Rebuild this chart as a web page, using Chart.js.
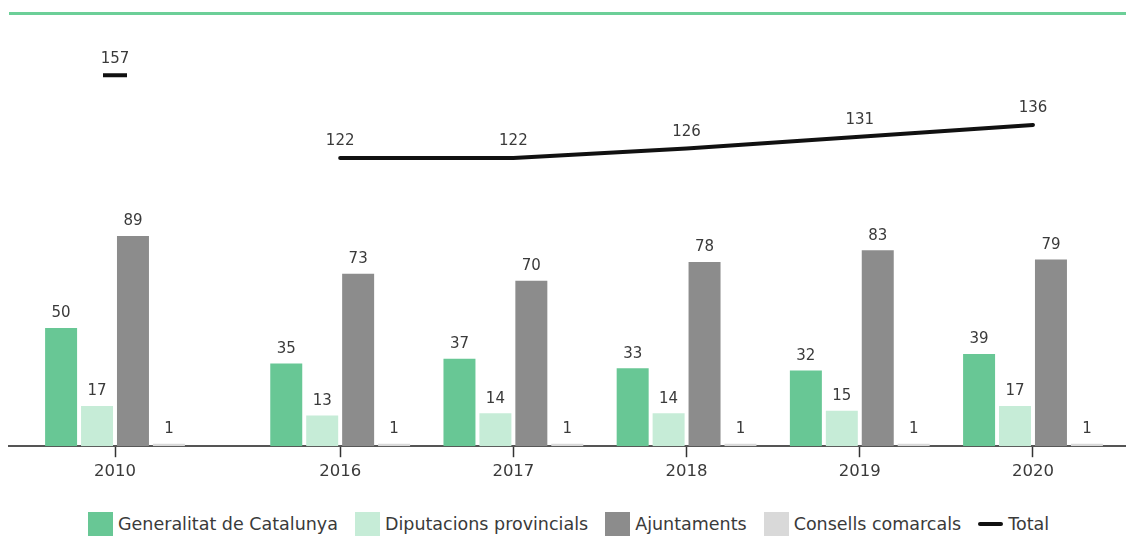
<!DOCTYPE html>
<html>
<head>
<meta charset="utf-8">
<script src="https://cdn.jsdelivr.net/npm/chart.js"></script>
<style>
    html, body { margin: 0; padding: 0; background: #fff; }
    body { width: 1126px; height: 558px; position: relative; overflow: hidden; font-family: "DejaVu Sans", sans-serif; }
    .top-rule { position: absolute; left: 9px; right: 0; top: 12px; height: 3px; background: #6ccf98; }
    .chart-box { position: absolute; left: 0; top: 0; width: 1126px; height: 490px; }
    .legend { position: absolute; left: 88px; top: 512px; height: 24px; display: flex; align-items: center; color: #3a3a3a; font-size: 17.5px; }
    .legend-item { display: flex; align-items: center; margin-right: 17px; }
    .legend-box { width: 25px; height: 24px; margin-right: 5px; }
    .legend-line { width: 25px; height: 4px; margin-right: 5px; border-radius: 2px; }
</style>
</head>
<body>
<div class="top-rule"></div>
<div class="chart-box"><canvas id="chart" width="1126" height="490"></canvas></div>
<div class="legend" id="legend"></div>

<script>
const years = ["2010", "2016", "2017", "2018", "2019", "2020"];
const generalitat = [50, 35, 37, 33, 32, 39];
const diputacions = [17, 13, 14, 14, 15, 17];
const ajuntaments = [89, 73, 70, 78, 83, 79];
const consells = [1, 1, 1, 1, 1, 1];
const total = [157, 122, 122, 126, 131, 136];

// the 2010 group sits a bit apart from the rest
const GAP_AFTER_FIRST = 0.3;
const slots = years.map((y, i) => i + (i > 0 ? GAP_AFTER_FIRST : 0));

const LABEL_COLOR = "#3a3a3a";
const FONT = "'DejaVu Sans', sans-serif";

function toPoints(values) {
    return values.map((v, i) => ({ x: slots[i], y: v }));
}

const valueLabels = {
    id: "valueLabels",
    afterDatasetsDraw(chart) {
        const ctx = chart.ctx;
        ctx.save();
        ctx.fillStyle = LABEL_COLOR;
        ctx.font = "15px " + FONT;
        ctx.textAlign = "center";
        ctx.textBaseline = "bottom";
        chart.data.datasets.forEach((ds, di) => {
            const meta = chart.getDatasetMeta(di);
            meta.data.forEach((el, i) => {
                const offset = ds.type === "line" ? 9 : 7;
                ctx.fillText(ds.data[i].y, el.x, el.y - offset);
            });
        });
        ctx.restore();
    }
};

const chart = new Chart(document.getElementById("chart"), {
    type: "bar",
    data: {
        datasets: [
            {
                type: "line",
                label: "Total",
                data: toPoints(total),
                borderColor: "#111",
                borderWidth: 4,
                borderCapStyle: "round",
                segment: {
                    borderColor: c => c.p0DataIndex === 0 ? "rgba(0,0,0,0)" : "#111"
                },
                pointStyle: "line",
                pointRadius: total.map((v, i) => i === 0 ? 12 : 0),
                pointBorderWidth: 4,
                pointBorderColor: "#111",
                pointHoverRadius: 0,
                tension: 0,
                order: 0
            },
            { label: "Generalitat de Catalunya", data: toPoints(generalitat), backgroundColor: "#68c795", order: 1 },
            { label: "Diputacions provincials", data: toPoints(diputacions), backgroundColor: "#c6ecd7", order: 1 },
            { label: "Ajuntaments", data: toPoints(ajuntaments), backgroundColor: "#8c8c8c", order: 1 },
            { label: "Consells comarcals", data: toPoints(consells), backgroundColor: "#d9d9d9", order: 1 }
        ]
    },
    options: {
        responsive: false,
        animation: false,
        categoryPercentage: 0.83,
        barPercentage: 0.89,
        layout: { autoPadding: false, padding: { left: 9, right: 0, top: 21, bottom: 3 } },
        plugins: {
            legend: { display: false },
            tooltip: { enabled: false }
        },
        scales: {
            x: {
                type: "linear",
                min: -0.612,
                max: 5.837,
                offset: false,
                afterBuildTicks: scale => {
                    scale.ticks = slots.map(v => ({ value: v }));
                },
                afterFit: scale => {
                    // labels are well inside the area, no extra side padding wanted
                    scale.paddingLeft = 0;
                    scale.paddingRight = 0;
                },
                ticks: {
                    autoSkip: false,
                    maxRotation: 0,
                    padding: 5,
                    color: LABEL_COLOR,
                    font: { family: FONT, size: 16.5 },
                    callback: function (value) {
                        const i = slots.indexOf(value);
                        return i >= 0 ? years[i] : "";
                    }
                },
                grid: {
                    offset: false,
                    drawOnChartArea: false,
                    drawTicks: true,
                    tickLength: 11,
                    tickColor: "#333",
                    tickWidth: 1.5
                },
                border: { display: true, color: "#555", width: 2 }
            },
            y: {
                display: false,
                min: 0,
                max: 180
            }
        }
    },
    plugins: [valueLabels]
});

// legend drawn as html from the datasets, bars first then the total line
const legend = document.getElementById("legend");
const order = [1, 2, 3, 4, 0];
order.forEach(di => {
    const ds = chart.data.datasets[di];
    const item = document.createElement("div");
    item.className = "legend-item";
    const mark = document.createElement("span");
    if (ds.type === "line") {
        mark.className = "legend-line";
        mark.style.background = ds.borderColor;
    } else {
        mark.className = "legend-box";
        mark.style.background = ds.backgroundColor;
    }
    const text = document.createElement("span");
    text.textContent = ds.label;
    item.appendChild(mark);
    item.appendChild(text);
    legend.appendChild(item);
});
</script>
</body>
</html>
